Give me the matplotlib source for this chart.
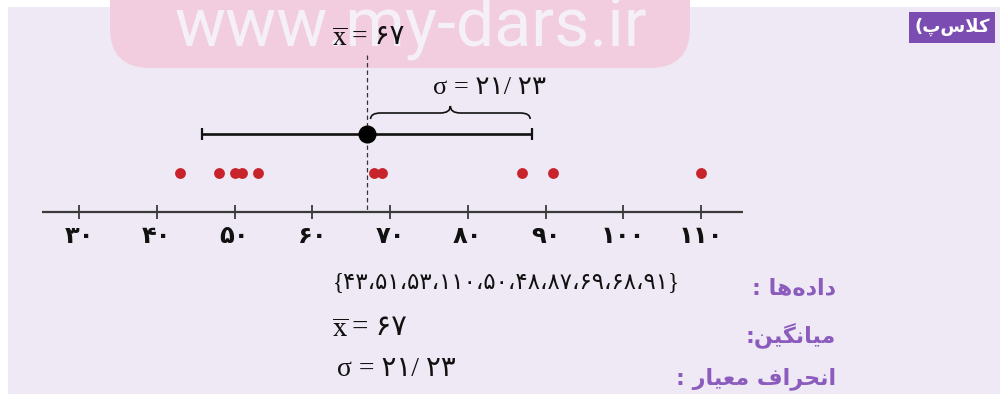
import matplotlib.pyplot as plt
from matplotlib.patches import FancyBboxPatch, Rectangle, PathPatch
from matplotlib.path import Path

# dade-ha (be tartib-e namayesh dar tasvir)
dadeha = [43, 51, 53, 110, 50, 48, 87, 69, 68, 91]
miangin = 67
enheraf_meyar = 21.23
tick_vals = [30, 40, 50, 60, 70, 80, 90, 100, 110]

# matn-ha (harf-haye farsi be shekl-e namayeshi, chap be rast)
txt_dadeha = ': \uFE8E\uFEEB\uFEE9\uFEA9\uFE8D\uFEA9'
txt_miangin = ':\uFEE6\uFBFF\uFB95\uFEE7\uFE8E\uFBFF\uFEE3'
txt_enheraf = ': \uFEAD\uFE8E\uFBFF\uFECC\uFEE3 \uFED1\uFE8D\uFEAE\uFEA4\uFEE7\uFE8D'
txt_kelas = '(\uFB56\uFEB1\uFEFC\uFB90'
txt_site = 'www.my-dars.ir'

plt.rcParams['mathtext.fontset'] = 'stix'

fa = str.maketrans('0123456789', '۰۱۲۳۴۵۶۷۸۹')


def farsi(v):
    return str(v).translate(fa)


def px2x(px):
    # 30 -> 79px , 110 -> 701px
    return 30 + (px - 79) / 7.775


serif = ['Liberation Serif', 'DejaVu Sans']
purple = '#8B5CBD'

fig = plt.figure(figsize=(10, 3.94), dpi=100, facecolor='white')

# zamine (pixel)
bg = fig.add_axes([0, 0, 1, 1])
bg.set_xlim(0, 1000)
bg.set_ylim(394, 0)
bg.axis('off')
bg.add_patch(Rectangle((8, 7), 992, 387, fc='#EEE9F4', ec='none'))
bg.add_patch(FancyBboxPatch((110, -45), 580, 113,
                            boxstyle='round,pad=0,rounding_size=40',
                            fc='#F2CDE0', ec='none'))
bg.text(411, 45, txt_site, ha='center', va='baseline', fontsize=49,
        color='#F5EFF8', family='Roboto', clip_on=True)
bg.add_patch(Rectangle((909, 12), 86, 31, fc='#7B4CB2', ec='none'))
bg.text(952, 27, txt_kelas, ha='center', va='center', fontsize=13,
        fontweight='bold', color='white', family='DejaVu Sans')

for t, y in [(txt_dadeha, 289), (txt_miangin, 335), (txt_enheraf, 379)]:
    bg.text(836, y, t, ha='right', va='center', fontsize=16,
            fontweight='bold', color=purple, family='DejaVu Sans')

# mehvar-e adad
ax = fig.add_axes([0, 0, 1, 1])
ax.patch.set_alpha(0)
ax.set_xlim(px2x(0), px2x(1000))
ax.set_ylim(394, 0)
ax.axis('off')

ax.hlines(212, px2x(42), px2x(743), color='#3a3a3a', lw=1.6)
ax.vlines(tick_vals, 205, 219, color='#3a3a3a', lw=1.3)
for v in tick_vals:
    ax.text(v, 236, farsi(v), ha='center', va='center', fontsize=17.5,
            fontweight='bold', family='DejaVu Sans', color='#111111')

# dade-ha
ax.plot(dadeha, [173] * len(dadeha), 'o', color='#C8232B', ms=7.8,
        mec='none', zorder=3)

# miangin va enheraf-e meyar
ax.vlines(miangin, 55, 212, color='#333333', lw=0.9,
          linestyles=(0, (3.5, 2.5)))
ax.hlines(134, miangin - enheraf_meyar, miangin + enheraf_meyar,
          color='#111111', lw=1.9)
ax.vlines([miangin - enheraf_meyar, miangin + enheraf_meyar], 128, 140,
          color='#111111', lw=1.6)
ax.plot([miangin], [134], 'o', color='black', ms=12, zorder=4)

# akolad
x0, x1 = miangin + 0.5, miangin + enheraf_meyar - 0.2
xm = (x0 + x1) / 2
yb, ym, yt = 119, 113, 106
r = 1.3
verts = [(x0, yb), (x0, ym), (x0 + r, ym), (xm - r, ym), (xm, ym), (xm, yt),
         (xm, ym), (xm + r, ym), (x1 - r, ym), (x1, ym), (x1, yb)]
codes = [Path.MOVETO, Path.CURVE3, Path.CURVE3, Path.LINETO, Path.CURVE3,
         Path.CURVE3, Path.CURVE3, Path.CURVE3, Path.LINETO, Path.CURVE3,
         Path.CURVE3]
ax.add_patch(PathPatch(Path(verts, codes), fc='none', ec='#111111', lw=1.2))

sig_txt = 'σ = ' + farsi(21) + '/ ' + farsi(23)


def xbar(x_px, y_px, val, size):
    bg.text(x_px, y_px + 1, r'$\overline{\mathrm{x}}$', ha='center',
            va='center', fontsize=size, color='#111111', zorder=5)
    bg.text(x_px + 12, y_px, '= ' + farsi(val), ha='left', va='center',
            fontsize=size, family=serif, color='#111111', zorder=5)


xbar(340, 37, miangin, 20)
ax.text(px2x(490), 88, sig_txt, ha='center', va='center', fontsize=19,
        family=serif, color='#111111')

# matn-haye paeen
set_txt = '{' + '،'.join(farsi(v) for v in dadeha) + '}'
bg.text(506, 283, set_txt, ha='center', va='center', fontsize=16.5,
        family=serif, color='#111111')
xbar(340, 328, miangin, 21)
bg.text(396, 370, sig_txt, ha='center', va='center', fontsize=20,
        family=serif, color='#111111')

fig.savefig('out.png', dpi=100, facecolor=fig.get_facecolor())
